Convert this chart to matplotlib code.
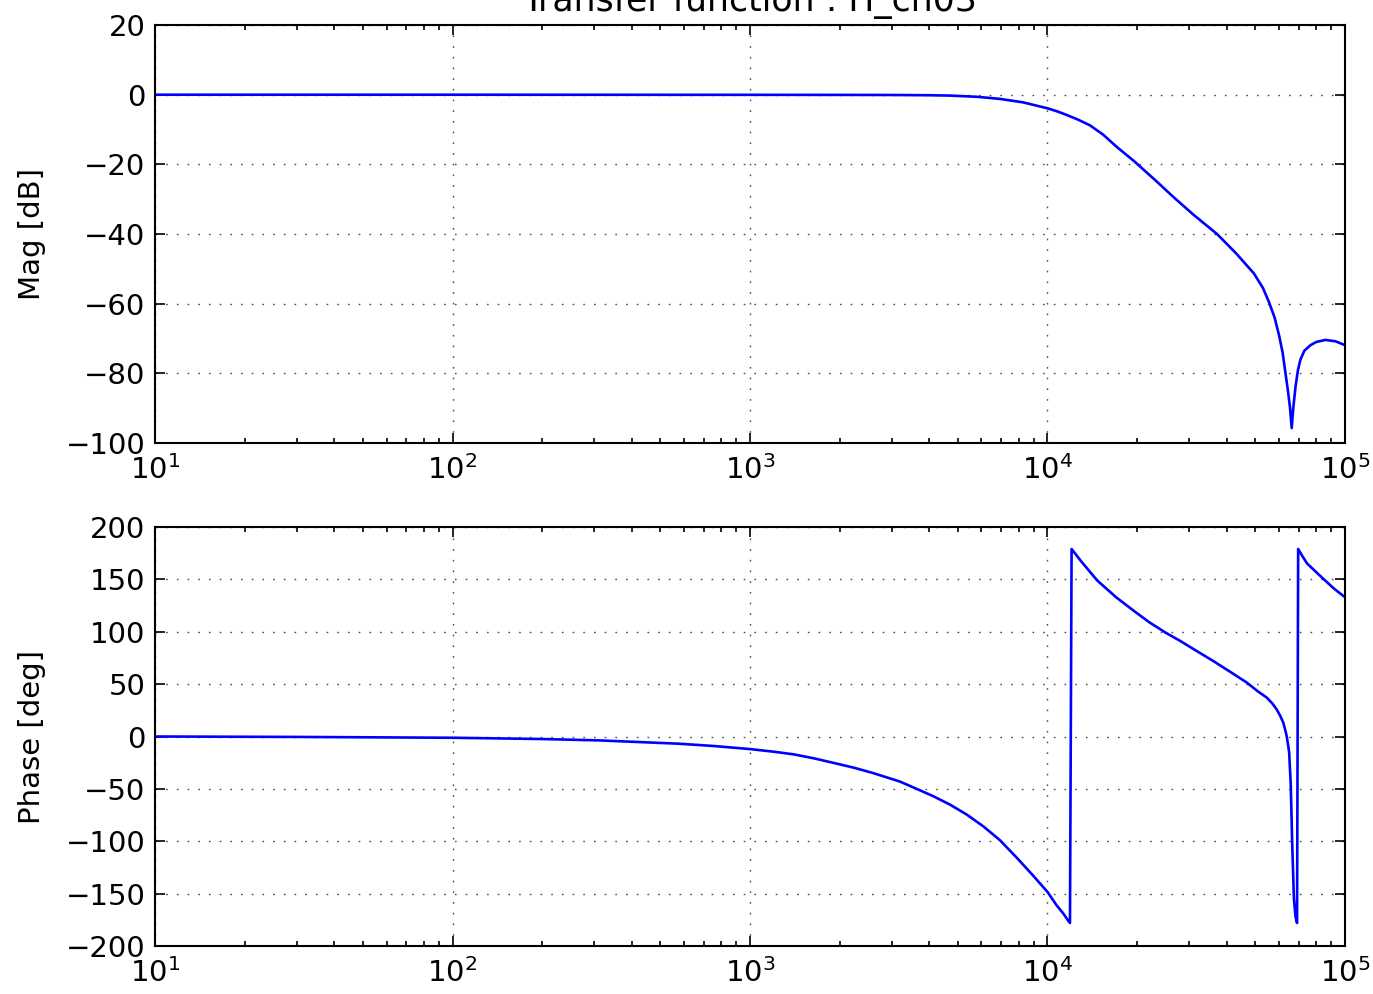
import numpy as np
import matplotlib
matplotlib.use("Agg")
import matplotlib.pyplot as plt

# values
mag_freq = [10, 100, 1000, 2000, 3000, 4000, 4700, 5800, 6920, 8280,
            10000, 10800, 11590, 12700, 13900, 15400, 17100, 19500, 23000,
            26600, 31000, 37150, 43000, 49400, 53000, 55500, 58000, 60000,
            61700, 63100, 64300, 65300, 66200, 67000, 68200, 69500, 70800,
            73000, 76600, 80000, 85900, 93000, 100000]
mag_db = [0, 0, -0.03, -0.05, -0.08, -0.15, -0.25, -0.6, -1.2, -2.2,
          -3.9, -4.8, -5.8, -7.2, -8.8, -11.5, -15, -19, -24.5,
          -29.5, -34.5, -40, -45.5, -51.3, -55.5, -59.5, -64, -69,
          -74, -80, -85, -89.6, -95.7, -90, -83.8, -79, -76.1,
          -73.5, -71.9, -71, -70.4, -70.8, -71.9]

phase_freq = [10, 30, 100, 200, 310, 570, 750, 1000, 1200, 1400, 1650,
              1930, 2250, 2600, 3190, 3600, 4130, 4700, 5350, 6100, 6920,
              7900, 8960, 10000, 10720, 11300, 11750, 11900, 12050, 13000,
              14690, 17000, 19500, 22000, 25000, 27870, 32000, 35970, 41000,
              46700, 51000, 54500, 57000, 58900, 60500, 62000, 63000, 63650,
              64300, 64900, 65700, 66500, 67350, 68200, 69000, 69600, 72000,
              74650, 80000, 84950, 92000, 100000]
phase_deg = [0, -0.4, -1.2, -2.4, -3.7, -6.8, -9, -12, -14.5, -17, -21,
             -25.5, -30, -35, -43, -49.5, -57, -65, -74.5, -86, -99,
             -116, -133, -148.4, -161, -169, -176, -178, 179, 167,
             149, 133, 120, 109, 99, 91.4, 81, 72.3, 62,
             51.6, 43, 37.3, 31.5, 26, 20, 13.4, 6, 0.6,
             -7, -15, -45, -105, -155, -172, -178, 179, 172,
             165, 157, 150, 141, 133]

plt.rcParams['font.family'] = 'DejaVu Sans'
plt.rcParams['font.size'] = 21
plt.rcParams['xtick.direction'] = 'in'
plt.rcParams['ytick.direction'] = 'in'
plt.rcParams['xtick.top'] = True
plt.rcParams['ytick.right'] = True
plt.rcParams['xtick.major.size'] = 7
plt.rcParams['ytick.major.size'] = 7
plt.rcParams['xtick.minor.size'] = 3.5
plt.rcParams['xtick.major.pad'] = 9
plt.rcParams['ytick.major.pad'] = 7

fig = plt.figure(figsize=(13.73, 9.94), dpi=100)
ax1 = fig.add_axes([0.1129, 0.5543, 0.8667, 0.4205])
ax2 = fig.add_axes([0.1129, 0.0483, 0.8667, 0.4215])

ax1.semilogx(mag_freq, mag_db, color='#0000ff', linewidth=1.9)
ax1.set_xlim(10, 1e5)
ax1.set_ylim(-100, 20)
ax1.set_yticks(np.arange(-100, 21, 20))
ax1.set_ylabel('Mag [dB]')
ax1.set_title('Transfer function : H_ch03', fontsize=25, pad=10)

ax2.semilogx(phase_freq, phase_deg, color='#0000ff', linewidth=1.9)
ax2.set_xlim(10, 1e5)
ax2.set_ylim(-200, 200)
ax2.set_yticks(np.arange(-200, 201, 50))
ax2.set_ylabel('Phase [deg]')

for ax in (ax1, ax2):
    ax.grid(True, which='major', color='0.3', linestyle=(0, (1.2, 6.5)), linewidth=1.0)
    ax.yaxis.set_label_coords(-0.092, 0.5)
    for sp in ax.spines.values():
        sp.set_linewidth(1.5)
    ax.tick_params(which='both', width=1.2)

fig.savefig('out.png', dpi=100, facecolor='white')
